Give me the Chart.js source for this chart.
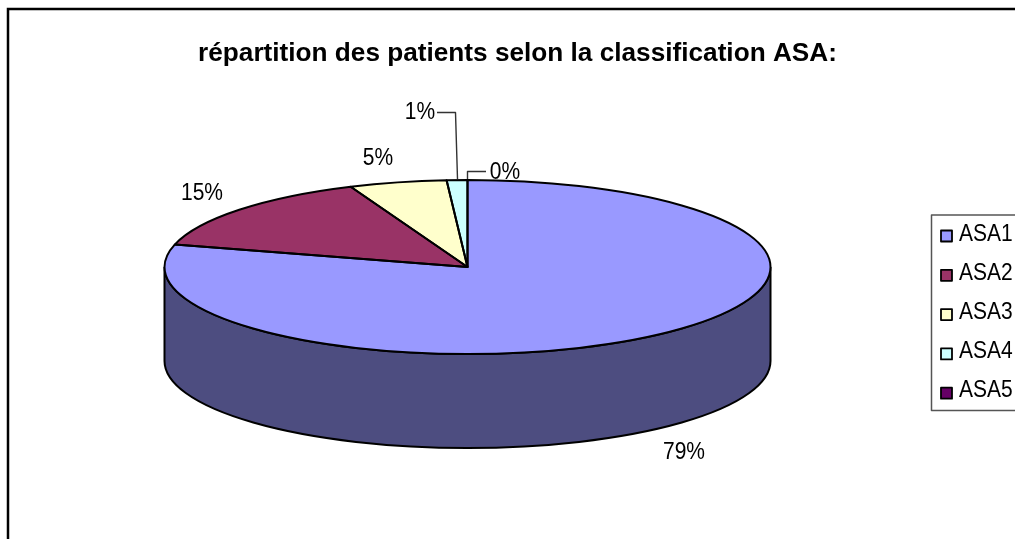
<!DOCTYPE html>
<html>
<head>
<meta charset="utf-8">
<style>
html, body { margin: 0; padding: 0; background: #fff; overflow: hidden; }
canvas { display: block; }
</style>
<script src="https://cdn.jsdelivr.net/npm/chart.js@4"></script>
</head>
<body>
<canvas id="asaChart" width="1015" height="539"></canvas>
<script>
const categories = ['ASA1', 'ASA2', 'ASA3', 'ASA4', 'ASA5'];
const asaValues = [79.15, 14.55, 5.2, 1.1, 0];
const sliceColors = ['#9999FF', '#993366', '#FFFFCC', '#CCFFFF', '#660066'];
const chartTitle = 'répartition des patients selon la classification ASA:';

// the tilted disc, in canvas pixels
const disc = { cx: 467.5, cy: 267, rx: 303, ry: 87, depth: 94 };
const labelSpots = [[684, 452], [202, 193], [378, 158], [420, 112], [505, 172]];
const FONT = '"Liberation Sans", Arial, sans-serif';

function darken(hex) {
    let n = parseInt(hex.slice(1), 16);
    let r = Math.round((n >> 16 & 255) / 2);
    let g = Math.round((n >> 8 & 255) / 2);
    let b = Math.round((n & 255) / 2);
    return 'rgb(' + r + ',' + g + ',' + b + ')';
}

// the original's small text is a little taller than it is wide
function tallText(ctx, text, x, y) {
    ctx.save();
    ctx.translate(x, y);
    ctx.scale(1, 1.13);
    ctx.fillText(text, 0, 0);
    ctx.restore();
}

function drawWalls(ctx, arcs) {
    arcs.forEach(function (arc, i) {
        // only the front half of the rim can be seen
        let a = Math.max(arc.startAngle, 0);
        let b = Math.min(arc.endAngle, Math.PI);
        if (b <= a) return;
        ctx.beginPath();
        ctx.ellipse(disc.cx, disc.cy, disc.rx, disc.ry, 0, a, b);
        ctx.ellipse(disc.cx, disc.cy + disc.depth, disc.rx, disc.ry, 0, b, a, true);
        ctx.closePath();
        ctx.fillStyle = darken(sliceColors[i]);
        ctx.fill();
        ctx.strokeStyle = '#000';
        ctx.lineWidth = 2;
        ctx.stroke();
    });
}

function drawOutlines(ctx, arcs) {
    ctx.strokeStyle = '#000';
    ctx.lineWidth = 2;
    ctx.lineJoin = 'round';
    arcs.forEach(function (arc) {
        if (arc.endAngle - arc.startAngle <= 0) return;
        ctx.beginPath();
        ctx.moveTo(disc.cx, disc.cy);
        ctx.ellipse(disc.cx, disc.cy, disc.rx, disc.ry, 0, arc.startAngle, arc.endAngle);
        ctx.closePath();
        ctx.stroke();
    });
}

function drawLeaders(ctx) {
    ctx.strokeStyle = '#333';
    ctx.lineWidth = 1.4;
    ctx.beginPath();
    ctx.moveTo(437, 112.5);
    ctx.lineTo(455.5, 112.5);
    ctx.lineTo(457.5, 179);
    ctx.moveTo(486, 171.5);
    ctx.lineTo(467.5, 171.5);
    ctx.lineTo(467.5, 179);
    ctx.stroke();
}

function drawPercents(ctx) {
    let total = asaValues.reduce(function (s, v) { return s + v; }, 0);
    ctx.fillStyle = '#000';
    ctx.font = '21px ' + FONT;
    ctx.textAlign = 'center';
    ctx.textBaseline = 'middle';
    asaValues.forEach(function (v, i) {
        tallText(ctx, Math.round(v / total * 100) + '%', labelSpots[i][0], labelSpots[i][1]);
    });
}

function drawLegend(ctx) {
    ctx.strokeStyle = '#555';
    ctx.lineWidth = 1.5;
    ctx.strokeRect(931.5, 215, 120, 195.5);
    ctx.font = '21px ' + FONT;
    ctx.textAlign = 'left';
    ctx.textBaseline = 'middle';
    categories.forEach(function (name, i) {
        let boxY = 230.5 + i * 39.3;
        ctx.fillStyle = sliceColors[i];
        ctx.fillRect(941, boxY, 11, 11);
        ctx.strokeStyle = '#000';
        ctx.lineWidth = 1.8;
        ctx.strokeRect(941, boxY, 11, 11);
        ctx.fillStyle = '#000';
        tallText(ctx, name, 959, 234.5 + i * 39);
    });
}

const pie3d = {
    id: 'pie3d',
    beforeDraw: function (chart) {
        let ctx = chart.ctx;
        ctx.save();
        ctx.strokeStyle = '#000';
        ctx.lineWidth = 2.5;
        ctx.strokeRect(8, 9, 1100, 600);
        ctx.restore();
    },
    beforeDatasetsDraw: function (chart) {
        let ctx = chart.ctx;
        let arcs = chart.getDatasetMeta(0).data;
        ctx.save();
        drawWalls(ctx, arcs);
        // squash the library's round pie onto the disc
        let arc = arcs[0];
        ctx.translate(disc.cx, disc.cy);
        ctx.scale(disc.rx / arc.outerRadius, disc.ry / arc.outerRadius);
        ctx.translate(-arc.x, -arc.y);
    },
    afterDatasetsDraw: function (chart) {
        let ctx = chart.ctx;
        ctx.restore();
        ctx.save();
        drawOutlines(ctx, chart.getDatasetMeta(0).data);
        drawLeaders(ctx);
        drawPercents(ctx);
        drawLegend(ctx);
        ctx.restore();
    }
};

new Chart(document.getElementById('asaChart').getContext('2d'), {
    type: 'pie',
    data: {
        labels: categories,
        datasets: [{
            data: asaValues,
            backgroundColor: sliceColors,
            borderWidth: 0,
            clip: false
        }]
    },
    options: {
        responsive: false,
        animation: false,
        events: [],
        layout: { padding: { left: 20 } },
        plugins: {
            legend: { display: false },
            tooltip: { enabled: false },
            title: {
                display: true,
                text: chartTitle,
                color: '#000',
                font: { family: FONT, size: 26.2, weight: 'bold' },
                padding: { top: 38.5, bottom: 10 }
            }
        }
    },
    plugins: [pie3d]
});
</script>
</body>
</html>
